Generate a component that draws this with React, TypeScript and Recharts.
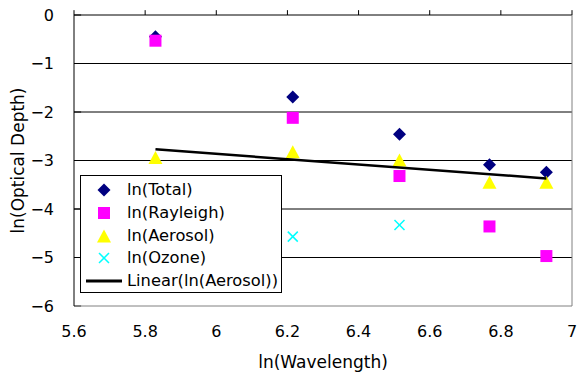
import React from 'react';
import {
  ScatterChart,
  Scatter,
  XAxis,
  YAxis,
  CartesianGrid,
  ReferenceLine,
  Label,
} from 'recharts';

// ln(wavelength) positions and the four optical-depth series
const lnWavelength = [5.829, 6.215, 6.515, 6.768, 6.928];
const lnTotal = [-0.45, -1.69, -2.46, -3.09, -3.24];
const lnRayleigh = [-0.53, -2.12, -3.32, -4.36, -4.97];
const lnAerosol = [-2.94, -2.82, -2.99, -3.45, -3.45];
const lnOzone: (number | null)[] = [null, -4.57, -4.33, null, null];

// linear trend of ln(Aerosol), endpoints as drawn
const trendX = [5.829, 6.928];
const trendY = [-2.77, -3.37];

const xTicks = [5.6, 5.8, 6, 6.2, 6.4, 6.6, 6.8, 7];
const yTicks = [-6, -5, -4, -3, -2, -1, 0];
const gridValues = [-5, -4, -3, -2, -1];

const seriesNames = ['ln(Total)', 'ln(Rayleigh)', 'ln(Aerosol)', 'ln(Ozone)', 'Linear(ln(Aerosol))'];
const seriesColors = ['#000080', '#FF00FF', '#FFFF00', '#00FFFF', '#000000'];
const seriesKinds = ['diamond', 'square', 'triangle', 'x', 'line'];

const FONT = '"DejaVu Sans", sans-serif';
const TICK_FS = 16;
const TEXT_FS = 17;
const LEGEND_FS = 16.3;

const toPoints = (ys: (number | null)[], xs = lnWavelength) =>
  xs.map((x, i) => ({ x, y: ys[i] })).filter(p => p.y !== null);

const Marker = ({ kind, color, cx, cy }: { kind: string; color: string; cx: number; cy: number }) => {
  if (kind === 'diamond') {
    const r = 6.5;
    return <polygon points={`${cx},${cy - r} ${cx + r},${cy} ${cx},${cy + r} ${cx - r},${cy}`} fill={color} />;
  }
  if (kind === 'square') {
    const h = 6;
    return <rect x={cx - h} y={cy - h} width={h * 2} height={h * 2} fill={color} />;
  }
  if (kind === 'triangle') {
    const w = 7;
    return <polygon points={`${cx},${cy - 6.5} ${cx + w},${cy + 6.5} ${cx - w},${cy + 6.5}`} fill={color} />;
  }
  if (kind === 'x') {
    const h = 5;
    return (
      <g stroke={color} strokeWidth={1.5}>
        <line x1={cx - h} y1={cy - h} x2={cx + h} y2={cy + h} />
        <line x1={cx - h} y1={cy + h} x2={cx + h} y2={cy - h} />
      </g>
    );
  }
  return <line x1={cx - 18} y1={cy} x2={cx + 18} y2={cy} stroke={color} strokeWidth={3} />;
};

const shapeFor = (i: number) => (props: any) =>
  <Marker kind={seriesKinds[i]} color={seriesColors[i]} cx={props.cx} cy={props.cy} />;

const LegendBox = () => (
  <div
    style={{
      position: 'absolute',
      left: 80,
      top: 175,
      border: '1px solid #000',
      background: '#fff',
      width: 202,
      height: 118,
      boxSizing: 'border-box',
      fontFamily: FONT,
      fontSize: LEGEND_FS,
      color: '#000',
    }}
  >
    {seriesNames.map((name, i) => (
      <div key={name} style={{ position: 'absolute', left: 0, top: 3 + i * 22.8, height: 22, width: 200 }}>
        <svg width={46} height={22} style={{ position: 'absolute', left: 0, top: 0 }}>
          <Marker kind={seriesKinds[i]} color={seriesColors[i]} cx={23} cy={11} />
        </svg>
        <span style={{ position: 'absolute', left: 46, top: 0, lineHeight: '22px', whiteSpace: 'nowrap' }}>
          {name}
        </span>
      </div>
    ))}
  </div>
);

export default function App() {
  const tickStyle = { fill: '#000', fontSize: TICK_FS, fontFamily: FONT };
  return (
    <div style={{ position: 'absolute', left: 0, top: 0, width: 577, height: 373, background: '#fff' }}>
      <ScatterChart width={577} height={373} margin={{ top: 15, right: 5, bottom: 0, left: 0 }}>
        <CartesianGrid horizontal vertical={false} horizontalValues={gridValues} stroke="#000" />
        <XAxis
          type="number"
          dataKey="x"
          domain={[5.6, 7]}
          ticks={xTicks}
          height={67}
          tickLine={false}
          tickSize={0}
          tickMargin={20}
          axisLine={{ stroke: '#808080' }}
          tick={tickStyle}
        >
          <Label
            value="ln(Wavelength)"
            position="insideBottom"
            offset={5}
            style={{ fill: '#000', fontSize: TEXT_FS, fontFamily: FONT }}
          />
        </XAxis>
        <YAxis
          type="number"
          dataKey="y"
          domain={[-6, 0]}
          ticks={yTicks}
          width={74}
          tickLine={false}
          tickSize={0}
          tickMargin={20}
          axisLine={{ stroke: '#000' }}
          tick={tickStyle}
          tickFormatter={(v: number) => String(v).replace('-', '\u2212')}
        >
          <Label
            value="ln(Optical Depth)"
            angle={-90}
            position="insideLeft"
            offset={18}
            style={{ fill: '#000', fontSize: TEXT_FS, fontFamily: FONT, textAnchor: 'middle' }}
          />
        </YAxis>
        {/* x axis crosses at y = 0: black line along the top with outward tick marks */}
        <ReferenceLine y={0} stroke="#000" />
        {xTicks.map(t => (
          <ReferenceLine
            key={`xt-${t}`}
            segment={[{ x: t, y: 0 }, { x: t, y: 0.1 }]}
            stroke="#000"
            ifOverflow="visible"
          />
        ))}
        {yTicks.map(t => (
          <ReferenceLine
            key={`yt-${t}`}
            segment={[{ x: 5.6, y: t }, { x: 5.62, y: t }]}
            stroke="#000"
          />
        ))}
        <ReferenceLine x={7} stroke="#808080" />
        <Scatter name={seriesNames[0]} data={toPoints(lnTotal)} shape={shapeFor(0)} isAnimationActive={false} />
        <Scatter name={seriesNames[1]} data={toPoints(lnRayleigh)} shape={shapeFor(1)} isAnimationActive={false} />
        <Scatter name={seriesNames[2]} data={toPoints(lnAerosol)} shape={shapeFor(2)} isAnimationActive={false} />
        <Scatter name={seriesNames[3]} data={toPoints(lnOzone)} shape={shapeFor(3)} isAnimationActive={false} />
        <Scatter
          name={seriesNames[4]}
          data={toPoints(trendY, trendX)}
          line={{ stroke: '#000', strokeWidth: 2.5 }}
          shape={() => <g />}
          isAnimationActive={false}
        />
      </ScatterChart>
      <LegendBox />
    </div>
  );
}
